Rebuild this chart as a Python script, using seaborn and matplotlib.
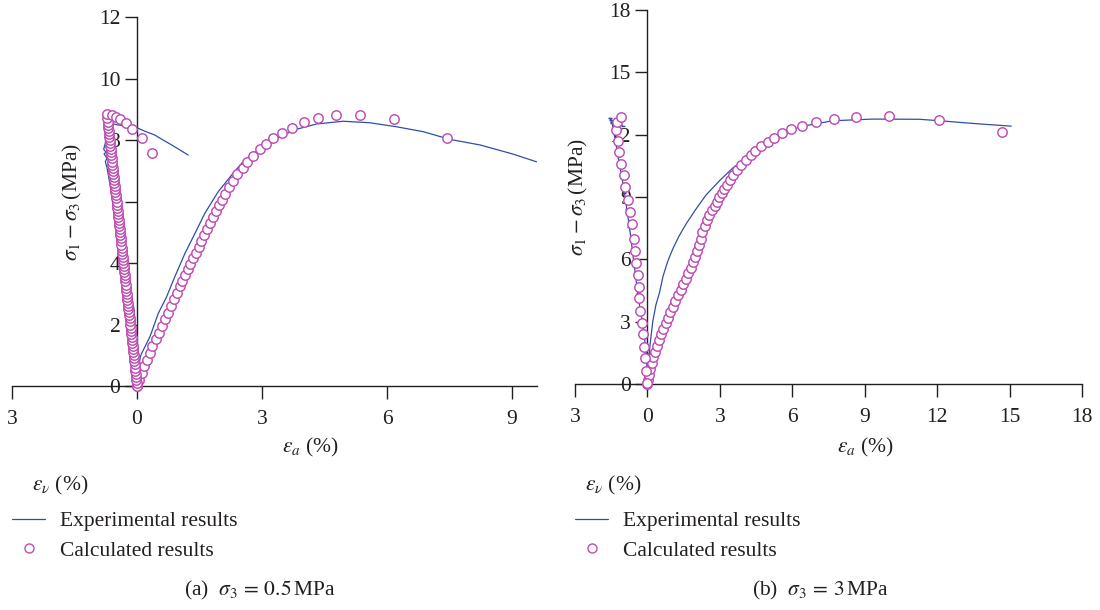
import matplotlib
matplotlib.use("Agg")
import matplotlib.pyplot as plt
import seaborn as sns
from matplotlib.lines import Line2D

# ---------------- data: panel (a) sigma3 = 0.5 MPa ----------------
a_exp_ax_x = [0, 0.03, 0.08, 0.11, 0.20, 0.31, 0.51, 0.71, 0.91, 1.15, 1.39, 1.63, 1.95, 2.27,
              2.51, 2.63, 3.03, 3.43, 3.83, 4.31, 4.95, 5.59, 6.23, 6.87, 7.51, 8.23, 9.03, 9.59]
a_exp_ax_y = [0, 0.50, 0.95, 1.06, 1.30, 1.60, 2.36, 2.90, 3.56, 4.31, 4.96, 5.62, 6.32, 6.86,
              7.24, 7.40, 7.78, 8.11, 8.35, 8.52, 8.61, 8.56, 8.43, 8.27, 8.02, 7.84, 7.54, 7.29]

a_exp_vol_x = [0, -0.01, -0.03, -0.05, -0.07, -0.15, -0.28, -0.34, -0.40, -0.46, -0.53, -0.58,
               -0.63, -0.68, -0.72, -0.76, -0.72, -0.79, -0.74, -0.80, -0.76, -0.74, -0.72, -0.62,
               -0.50, -0.30, -0.10, 0.03, 0.20, 0.43, 0.60, 0.83, 1.00, 1.23]
a_exp_vol_y = [0, 0.6, 1.2, 1.8, 2.5, 3.0, 3.5, 4.0, 4.5, 5.0, 5.5, 6.0,
               6.4, 6.8, 7.1, 7.3, 7.4, 7.55, 7.6, 7.7, 7.9, 8.2, 8.5, 8.55,
               8.50, 8.46, 8.42, 8.38, 8.28, 8.16, 8.02, 7.84, 7.70, 7.51]

a_calc_ax_x = [0, 0.05, 0.11, 0.17, 0.24, 0.30, 0.37, 0.45, 0.53, 0.61, 0.68, 0.75, 0.82, 0.89,
               0.96, 1.03, 1.09, 1.16, 1.22, 1.28, 1.35, 1.41, 1.48, 1.54, 1.61, 1.68, 1.75, 1.82,
               1.89, 1.96, 2.03, 2.12, 2.21, 2.30, 2.41, 2.54, 2.65, 2.79, 2.94, 3.10, 3.27, 3.49,
               3.72, 4.00, 4.34, 4.77, 5.35, 6.16, 7.45]
a_calc_ax_y = [0, 0.20, 0.42, 0.64, 0.86, 1.08, 1.30, 1.52, 1.73, 1.95, 2.17, 2.38, 2.60, 2.82,
               3.03, 3.25, 3.43, 3.62, 3.80, 3.98, 4.16, 4.34, 4.53, 4.71, 4.90, 5.10, 5.30, 5.50,
               5.68, 5.87, 6.05, 6.25, 6.46, 6.68, 6.89, 7.08, 7.28, 7.49, 7.70, 7.88, 8.07, 8.24,
               8.40, 8.58, 8.71, 8.80, 8.82, 8.68, 8.05]

# dense strand of calculated volumetric points, then the sparse dilation tail
a_calc_vol_x = [0.000, -0.008, -0.016, -0.025, -0.033, -0.041, -0.049, -0.057, -0.066, -0.074,
                -0.082, -0.090, -0.098, -0.107, -0.115, -0.123, -0.131, -0.139, -0.148, -0.156,
                -0.164, -0.172, -0.180, -0.189, -0.197, -0.205, -0.213, -0.221, -0.230, -0.238,
                -0.246, -0.254, -0.262, -0.271, -0.279, -0.287, -0.295, -0.303, -0.312, -0.320,
                -0.328, -0.336, -0.344, -0.353, -0.361, -0.369, -0.377, -0.385, -0.394, -0.402,
                -0.410, -0.418, -0.426, -0.435, -0.443, -0.451, -0.459, -0.467, -0.476, -0.484,
                -0.492, -0.500, -0.508, -0.517, -0.525, -0.533, -0.541, -0.549, -0.558, -0.566,
                -0.574, -0.582, -0.590, -0.599, -0.607, -0.615, -0.623, -0.631, -0.640, -0.648,
                -0.656, -0.664, -0.672, -0.681, -0.689, -0.697, -0.705, -0.713,
                -0.73, -0.61, -0.51, -0.40, -0.27, -0.11, 0.11, 0.37]
a_calc_vol_y = [0.0, 0.1, 0.2, 0.3, 0.4, 0.5, 0.6, 0.7, 0.8, 0.9,
                1.0, 1.1, 1.2, 1.3, 1.4, 1.5, 1.6, 1.7, 1.8, 1.9,
                2.0, 2.1, 2.2, 2.3, 2.4, 2.5, 2.6, 2.7, 2.8, 2.9,
                3.0, 3.1, 3.2, 3.3, 3.4, 3.5, 3.6, 3.7, 3.8, 3.9,
                4.0, 4.1, 4.2, 4.3, 4.4, 4.5, 4.6, 4.7, 4.8, 4.9,
                5.0, 5.1, 5.2, 5.3, 5.4, 5.5, 5.6, 5.7, 5.8, 5.9,
                6.0, 6.1, 6.2, 6.3, 6.4, 6.5, 6.6, 6.7, 6.8, 6.9,
                7.0, 7.1, 7.2, 7.3, 7.4, 7.5, 7.6, 7.7, 7.8, 7.9,
                8.0, 8.1, 8.2, 8.3, 8.4, 8.5, 8.6, 8.7,
                8.85, 8.81, 8.76, 8.67, 8.54, 8.35, 8.05, 7.59]

# ---------------- data: panel (b) sigma3 = 3 MPa ----------------
b_exp_ax_x = [0, 0.02, 0.05, 0.10, 0.22, 0.35, 0.50, 0.65, 0.84, 1.05, 1.30, 1.60, 2.00, 2.43,
              3.00, 3.54, 4.00, 4.50, 5.19, 6.30, 7.68, 9.34, 11.27, 12.10, 13.48, 15.07]
b_exp_ax_y = [0, 0.50, 1.00, 1.80, 3.00, 3.80, 4.40, 5.20, 5.90, 6.50, 7.10, 7.70, 8.40, 9.10,
              9.80, 10.40, 10.80, 11.20, 11.75, 12.38, 12.67, 12.75, 12.74, 12.67, 12.54, 12.41]

b_exp_vol_x = [0, 0.00, -0.05, -0.12, -0.19, -0.30, -0.40, -0.50, -0.61, -0.68, -0.75, -0.85,
               -0.95, -1.05, -1.16, -1.25, -1.33, -1.40, -1.46, -1.52, -1.56, -1.45, -1.30,
               -1.15, -1.02]
b_exp_vol_y = [0, 0.5, 1.5, 2.2, 2.9, 3.6, 4.36, 5.3, 6.29, 7.0, 7.57, 8.4,
               9.2, 9.9, 10.6, 11.2, 11.74, 12.15, 12.54, 12.70, 12.80, 12.62, 12.55,
               12.48, 12.42]

b_calc_ax_x = [0, 0.03, 0.06, 0.12, 0.18, 0.25, 0.32, 0.40, 0.48, 0.57, 0.66, 0.75, 0.84, 0.94,
               1.04, 1.15, 1.26, 1.37, 1.48, 1.59, 1.70, 1.81, 1.90, 1.98, 2.07, 2.14, 2.20, 2.27,
               2.37, 2.47, 2.57, 2.67, 2.78, 2.88, 2.98, 3.08, 3.18, 3.28, 3.40, 3.54, 3.70, 3.88,
               4.09, 4.30, 4.47, 4.71, 4.99, 5.26, 5.58, 5.95, 6.41, 6.99, 7.71, 8.65, 9.99,
               12.06, 14.70]
b_calc_ax_y = [0, 0.20, 0.43, 0.71, 0.99, 1.28, 1.56, 1.83, 2.12, 2.39, 2.66, 2.92, 3.19, 3.46,
               3.72, 3.99, 4.27, 4.52, 4.80, 5.07, 5.33, 5.60, 5.85, 6.13, 6.42, 6.70, 7.00, 7.33,
               7.60, 7.89, 8.13, 8.37, 8.57, 8.77, 8.98, 9.18, 9.38, 9.58, 9.82, 10.06, 10.30, 10.54,
               10.78, 11.02, 11.23, 11.45, 11.66, 11.85, 12.06, 12.25, 12.43, 12.59, 12.75, 12.87,
               12.91, 12.71, 12.11]

b_calc_vol_x = [-0.03, -0.05, -0.09, -0.15, -0.19, -0.22, -0.30, -0.33, -0.36, -0.40, -0.47, -0.50,
                -0.54, -0.63, -0.74, -0.81, -0.91, -0.99, -1.09, -1.16, -1.23, -1.30, -1.26, -1.09]
b_calc_vol_y = [0.06, 0.64, 1.24, 1.80, 2.39, 2.95, 3.53, 4.12, 4.68, 5.25, 5.84, 6.42,
                6.96, 7.70, 8.28, 8.85, 9.46, 10.05, 10.59, 11.15, 11.71, 12.22, 12.60, 12.84]

# ---------------- axes / text ----------------
a_xticks = [-3, 0, 3, 6, 9]
a_xticklabels = ["3", "0", "3", "6", "9"]
a_yticks = [0, 2, 4, 6, 8, 10, 12]
b_xticks = [-3, 0, 3, 6, 9, 12, 15, 18]
b_xticklabels = ["3", "0", "3", "6", "9", "12", "15", "18"]
b_yticks = [0, 3, 6, 9, 12, 15, 18]

legend_labels = ["Experimental results", "Calculated results"]
captions = [r"(a)  $\sigma_3\,=\,0.5\,$MPa", r"(b)  $\sigma_3\,=\,3\,$MPa"]

BLUE = "#2F4FA6"
MAG = "#BF4DB3"
INK = "#231F20"

sns.set_style("ticks")
plt.rcParams["font.family"] = ["Liberation Serif", "DejaVu Serif"]
plt.rcParams["mathtext.fontset"] = "stix"
FS = 15.5

fig = plt.figure(figsize=(11, 6.1), dpi=100)
W, H = 1100, 610
axA = fig.add_axes([12 / W, 1 - 386 / H, 525 / W, 369 / H])
axB = fig.add_axes([575 / W, 1 - 384 / H, 507 / W, 374 / H])


def draw(ax, eax, eay, evx, evy, cax, cay, cvx, cvy, xlim, ylim, xt, xtl, yt, ylab_x,
         vol_ticks=False):
    sns.lineplot(x=eax, y=eay, sort=False, estimator=None, color=BLUE, lw=0.9, ax=ax, zorder=2)
    if vol_ticks:
        sns.lineplot(x=evx, y=evy, sort=False, estimator=None, color=BLUE, lw=0.9, ax=ax,
                     zorder=2, marker="_", markersize=3, markeredgewidth=1.0,
                     markeredgecolor=BLUE)
    else:
        sns.lineplot(x=evx, y=evy, sort=False, estimator=None, color=BLUE, lw=0.9, ax=ax,
                     zorder=2)
    for xs, ys in ((cax, cay), (cvx, cvy)):
        sns.scatterplot(x=xs, y=ys, marker="o", s=46, facecolor="white", edgecolor=MAG,
                        linewidth=1.05, ax=ax, zorder=3, clip_on=False)
    ax.set_xlim(*xlim)
    ax.set_ylim(*ylim)
    ax.set_xticks(xt)
    ax.set_xticklabels(xtl)
    ax.set_yticks(yt)
    for s in ("top", "right"):
        ax.spines[s].set_visible(False)
    ax.spines["left"].set_position(("data", 0))
    for s in ("left", "bottom"):
        ax.spines[s].set_color(INK)
        ax.spines[s].set_linewidth(1.0)
    ax.tick_params(axis="both", direction="out", length=9, width=1.0, color=INK,
                   labelsize=FS, labelcolor=INK)
    ax.tick_params(axis="x", pad=8)
    ax.tick_params(axis="y", pad=3)
    ax.set_xlabel("")
    ax.set_ylabel(r"$\sigma_1-\sigma_3\,$(MPa)", fontsize=FS, color=INK)
    ax.yaxis.set_label_coords(ylab_x, 0.5)
    ax.patch.set_alpha(0)


draw(axA, a_exp_ax_x, a_exp_ax_y, a_exp_vol_x, a_exp_vol_y, a_calc_ax_x, a_calc_ax_y,
     a_calc_vol_x, a_calc_vol_y, (-3, 9.6), (0, 12), a_xticks, a_xticklabels, a_yticks,
     (84 - 12) / 525)
draw(axB, b_exp_ax_x, b_exp_ax_y, b_exp_vol_x, b_exp_vol_y, b_calc_ax_x, b_calc_ax_y,
     b_calc_vol_x, b_calc_vol_y, (-3, 18), (0, 18), b_xticks, b_xticklabels, b_yticks,
     (590 - 575) / 507, vol_ticks=True)

for xc, xl, leg_x, cap_x in ((310, 32, 12, 260), (865, 585, 575, 820)):
    fig.text(xc / W, 1 - 447 / H, r"$\varepsilon_a$ (%)", ha="center", va="center",
             fontsize=FS, color=INK)
    fig.text(xl / W, 1 - 485 / H, r"$\varepsilon_\nu$ (%)", ha="left", va="center",
             fontsize=FS, color=INK)
    handles = [Line2D([], [], color=BLUE, lw=0.9),
               Line2D([], [], ls="none", marker="o", mfc="white", mec=MAG, ms=6.5, mew=1.0)]
    fig.legend(handles=handles, labels=legend_labels, loc="upper left",
               bbox_to_anchor=(leg_x / W, 1 - 511 / H), frameon=False, fontsize=FS,
               handlelength=1.55, handletextpad=0.7, labelspacing=0.45, borderpad=0,
               borderaxespad=0, labelcolor=INK)

for cap, cx in zip(captions, (260, 820)):
    fig.text(cx / W, 1 - 590 / H, cap, ha="center", va="center", fontsize=FS, color=INK)

fig.savefig("out.png", dpi=100)
